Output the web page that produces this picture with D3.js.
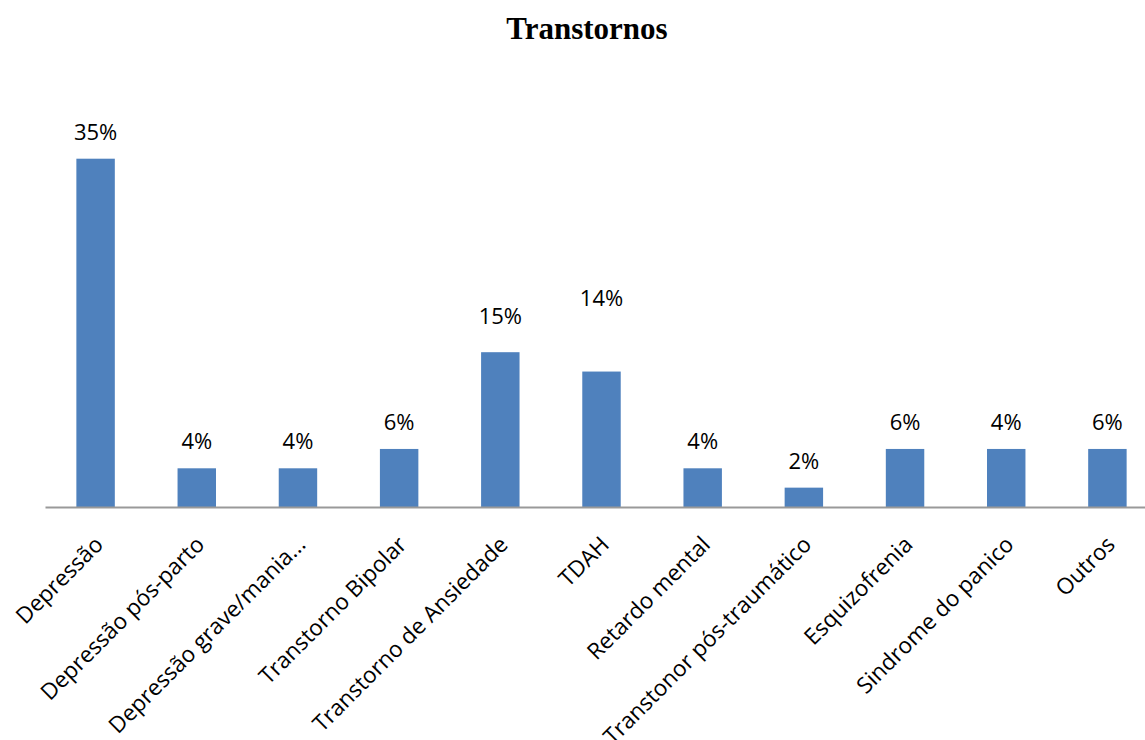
<!DOCTYPE html>
<html><head><meta charset="utf-8">
<script src="https://cdn.jsdelivr.net/npm/d3@7"></script>
<style>body{margin:0;background:#fff}</style>
</head><body><svg id="c" width="1145" height="740"></svg>
<script>
const categories = ["Depressão","Depressão pós-parto","Depressão grave/mania...","Transtorno Bipolar","Transtorno de Ansiedade","TDAH","Retardo mental","Transtonor pós-traumático","Esquizofrenia","Sindrome do panico","Outros"];
const values = [18, 2, 2, 3, 8, 7, 2, 1, 3, 3, 3];
const valueLabels = ["35%","4%","4%","6%","15%","14%","4%","2%","6%","4%","6%"];
const yMax = 20;

const W = 1145, H = 740;
const axisY = 507, plotTop = 120, left = 45, right = 1158;
const labelNudge = {4: 9, 5: 47};

const svg = d3.select("#c");
const x = d3.scaleBand().domain(categories).range([left, right]).paddingInner(0.62).paddingOuter(0.31);
const y = d3.scaleLinear().domain([0, yMax]).range([axisY, plotTop]);

svg.append("text").attr("x", 587).attr("y", 39).attr("text-anchor","middle")
  .attr("font-family","'Liberation Serif', 'Times New Roman', serif").attr("font-weight","bold")
  .attr("font-size", 31).attr("fill","#000").text("Transtornos");

svg.selectAll("rect.bar").data(values).enter().append("rect").attr("class","bar")
  .attr("x", (d,i) => x(categories[i])).attr("width", x.bandwidth())
  .attr("y", d => y(d)).attr("height", d => axisY - y(d))
  .attr("fill", "#4F81BD");

const xAxis = d3.axisBottom(x).tickSize(0).tickFormat("");
const g = svg.append("g").attr("transform", `translate(0,${axisY})`).call(xAxis);
g.select(".domain").attr("stroke","#999").attr("stroke-width",2);

svg.selectAll("text.vl").data(values).enter().append("text").attr("class","vl")
  .attr("x", (d,i) => x(categories[i]) + x.bandwidth()/2)
  .attr("y", (d,i) => y(d) - 19 - (labelNudge[i] || 0))
  .attr("text-anchor","middle").attr("font-family","'Open Sans', sans-serif")
  .attr("font-size", 22).attr("fill","#000").text((d,i) => valueLabels[i]);

svg.selectAll("text.cl").data(categories).enter().append("text").attr("class","cl")
  .attr("transform", d => `translate(${x(d) + x.bandwidth()/2 - 3},${axisY + 27}) rotate(-45)`)
  .attr("dy","0.75em")
  .attr("text-anchor","end").attr("font-family","'Open Sans', sans-serif")
  .attr("font-size", 22.5).attr("fill","#000").text(d => d);
</script></body></html>
